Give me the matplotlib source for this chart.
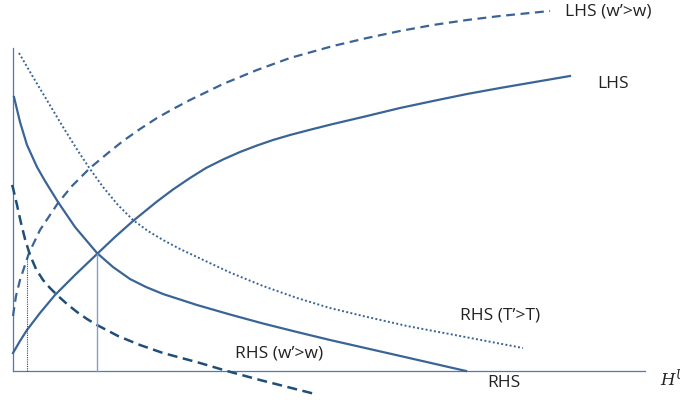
import matplotlib.pyplot as plt

# H^U on the x axis, value on the y axis (origin at the axis corner)
lhs_x = [0, 7, 14, 27, 42, 62, 84, 102, 120, 144, 160, 177, 193, 210, 227, 244, 260, 277, 300, 320, 354, 387, 420, 454, 487, 522, 557]
lhs_y = [18, 30, 41, 58, 76, 96, 117, 134, 150, 169.5, 181.5, 193, 203, 211.5, 219, 225.5, 231, 236, 242, 247, 255, 263, 270, 277, 283, 289, 295]

lhs_w_x = [0, 3, 7, 11, 16, 27, 45, 59, 77, 95, 110, 127, 144, 160, 177, 210, 244, 277, 320, 354, 387, 420, 454, 487, 537]
lhs_w_y = [55, 75, 91, 103, 118, 141, 168, 185, 203, 218, 230, 242, 253, 262, 271, 287, 301, 313, 325, 333, 340, 346, 351, 355, 360]

rhs_x = [1, 7, 14, 24, 32, 45, 62, 84, 100, 117, 133, 150, 184, 217, 250, 284, 317, 350, 394, 453]
rhs_y = [274, 249, 226, 204, 190, 169, 144, 118, 104, 92, 84, 77, 66, 56.5, 47.5, 39, 31, 23.5, 13.5, 0]

rhs_t_x = [6, 20, 35, 50, 65, 77, 90, 105, 120, 135, 150, 167, 184, 217, 250, 284, 317, 350, 394, 447, 510]
rhs_t_y = [318, 294, 269, 244, 220, 202, 184, 166, 151, 140, 131, 122, 114, 98.5, 85, 73, 63, 55, 45, 35, 23]

rhs_w_x = [-1, 0, 4, 8, 12, 17, 23, 30, 37, 44, 54, 64, 74, 84, 105, 127, 150, 187, 214, 247, 302]
rhs_w_y = [186, 183, 166, 148, 132, 116, 102, 91, 83, 76, 67, 59, 52, 46, 35, 26, 18, 8, 0, -9, -23]

# equilibrium points dropped to the axis
eq_x, eq_y = 84, 117
eq_w_x, eq_w_y = 14, 116

blue = "#3b6496"
dark = "#1f4e79"
axis_c = "#4f79b6"

fig = plt.figure(figsize=(6.8, 4.03), dpi=100)
ax = fig.add_axes([0, 0, 1, 1])
ax.set_xlim(-13, 667)
ax.set_ylim(-32, 371)
ax.axis("off")

# axes
ax.plot([0, 0], [0, 323], color=axis_c, lw=0.9)
ax.plot([0, 632], [0, 0], color=axis_c, lw=0.9)

kw = dict(solid_joinstyle="round", dash_joinstyle="round")
ax.plot(lhs_x, lhs_y, color=blue, lw=1.6, **kw)
ax.plot(lhs_w_x, lhs_w_y, color=blue, lw=1.6, ls=(0, (4, 2.5)), **kw)
ax.plot(rhs_x, rhs_y, color=blue, lw=1.6, **kw)
ax.plot(rhs_t_x, rhs_t_y, color=blue, lw=1.4, ls=(0, (1, 1.2)), **kw)
ax.plot(rhs_w_x, rhs_w_y, color=dark, lw=1.8, ls=(0, (4, 2.2)), **kw)

ax.plot([eq_x, eq_x], [0, eq_y], color="#7f9fd6", lw=1.0)
ax.plot([eq_w_x, eq_w_x], [0, eq_w_y], color=dark, lw=0.8, ls=(0, (1, 1)))

fs = 12.5
tc = "#222222"
ax.text(552, 360, "LHS (w\u2019>w)", fontsize=fs, color=tc, va="center", family="Open Sans")
ax.text(584, 287, "LHS", fontsize=fs, color=tc, va="center", family="Open Sans")
ax.text(447, 55, "RHS (T\u2019>T)", fontsize=fs, color=tc, va="center", family="Open Sans")
ax.text(474, -12, "RHS", fontsize=fs, color=tc, va="center", family="Open Sans")
ax.text(222, 18, "RHS (w\u2019>w)", fontsize=fs, color=tc, va="center", family="Open Sans")
ax.text(647, -7, "$H^U$", fontsize=12, color=tc, va="center",
        math_fontfamily="dejavuserif")

fig.savefig("out.png", dpi=100)
